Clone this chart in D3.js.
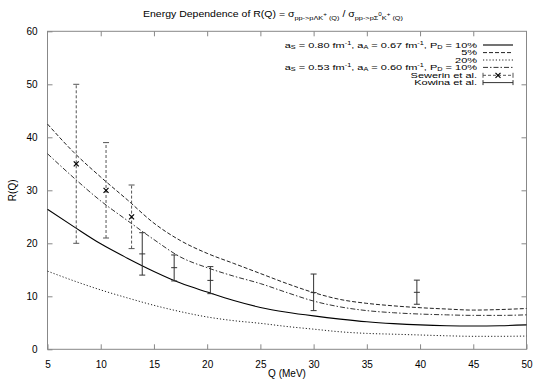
<!DOCTYPE html>
<html lang="en">
  <head>
    <meta charset="utf-8">
    <title>R(Q)</title>
    <script src="https://cdn.jsdelivr.net/npm/d3@7"></script>
    <style>
      body { margin: 0; background: #fff; }
      text { font-family: "Liberation Sans", Arial, sans-serif; fill: #000; }
    </style>
  </head>
  <body>
    <script>
      // curves on a common Q grid (MeV)
      var qGrid = [5, 7.5, 10, 12.5, 15, 17.5, 20, 22.5, 25, 27.5, 30, 32.5, 35, 37.5, 40, 42.5, 45, 47.5, 50];
      var pd10 = [26.4, 23.1, 19.9, 17.2, 14.7, 12.5, 10.8, 9.2, 7.9, 7.0, 6.3, 5.7, 5.2, 4.85, 4.6, 4.45, 4.4, 4.45, 4.6];
      var pd5 = [42.5, 37.1, 32.5, 28.2, 23.8, 20.5, 18.1, 16.2, 14.3, 12.4, 10.7, 9.4, 8.67, 8.2, 7.85, 7.6, 7.4, 7.5, 7.7];
      var pd20 = [14.75, 12.9, 11.2, 9.7, 8.3, 7.1, 6.1, 5.4, 4.9, 4.3, 3.8, 3.3, 3.0, 2.85, 2.7, 2.55, 2.45, 2.45, 2.5];
      var altScat = [36.9, 32.3, 28.0, 24.3, 20.7, 17.4, 15.4, 13.8, 12.4, 10.7, 9.1, 8.0, 7.3, 6.9, 6.65, 6.5, 6.4, 6.4, 6.5];

      // data points: Q, value, low, high
      var sewQ = [7.7, 10.5, 12.9];
      var sewR = [35, 30, 25];
      var sewLo = [20, 21, 19];
      var sewHi = [50, 39, 31];

      var kowQ = [13.9, 16.9, 20.3, 30.0, 39.7];
      var kowR = [18, 15.4, 13, 10.7, 10.75];
      var kowLo = [14, 12.9, 10.5, 7.3, 8.5];
      var kowHi = [22, 17.8, 15.6, 14.2, 13.05];

      var xTicks = [5, 10, 15, 20, 25, 30, 35, 40, 45, 50];
      var yTicks = [0, 10, 20, 30, 40, 50, 60];

      var W = 545, H = 382;
      var svg = d3.select("body").append("svg")
                  .attr("width", W)
                  .attr("height", H);

      var x = d3.scaleLinear().domain([5, 50]).range([47.5, 526.5]);
      var y = d3.scaleLinear().domain([0, 60]).range([349.3, 31.3]);

      var axisColor = "#888";

      // writes text with sub/superscripts: parts = [text, shift(px, +down), size]
      function rich(t, parts) {
        var prev = 0;
        parts.forEach(function(p) {
          t.append("tspan")
           .attr("dy", p[1] - prev)
           .style("font-size", p[2] + "px")
           .text(p[0]);
          prev = p[1];
        });
      }

      // the picture's text is squeezed vertically
      function squeezed(px, py, anchor, sx, sy) {
        return svg.append("text")
                  .attr("transform", "translate(" + px + "," + py + ") scale(" + sx + "," + sy + ")")
                  .attr("text-anchor", anchor);
      }

      // axes, ticks inward and mirrored
      function styleAxis(g) {
        g.select(".domain").remove();
        g.selectAll("line").attr("stroke", axisColor);
        g.selectAll("text").style("font-size", "10px")
         .style("font-family", "Liberation Sans, Arial, sans-serif");
      }

      svg.append("g")
         .attr("transform", "translate(0," + y(0) + ")")
         .call(d3.axisBottom(x).tickValues(xTicks).tickSize(-5).tickPadding(12))
         .call(styleAxis);
      svg.append("g")
         .attr("transform", "translate(0," + y(60) + ")")
         .call(d3.axisTop(x).tickValues(xTicks.slice(1, -1)).tickSize(-5).tickFormat(""))
         .call(styleAxis);
      svg.append("g")
         .attr("transform", "translate(" + x(5) + ",0)")
         .call(d3.axisLeft(y).tickValues(yTicks).tickSize(-5).tickPadding(10))
         .call(styleAxis);
      svg.append("g")
         .attr("transform", "translate(" + x(50) + ",0)")
         .call(d3.axisRight(y).tickValues(yTicks.slice(1, -1)).tickSize(-5).tickFormat(""))
         .call(styleAxis);

      svg.append("rect")
         .attr("x", x(5)).attr("y", y(60))
         .attr("width", x(50) - x(5)).attr("height", y(0) - y(60))
         .attr("fill", "none").attr("stroke", axisColor);

      // curves
      var curves = [
        {vals: pd10, dash: null, w: 1.1, c: "#000"},
        {vals: pd5, dash: "4,2", w: 1, c: "#222"},
        {vals: pd20, dash: "1.2,2", w: 1, c: "#222"},
        {vals: altScat, dash: "5,2,1.5,2", w: 1, c: "#333"}
      ];
      var line = d3.line()
                   .x(function(d) { return x(d[0]); })
                   .y(function(d) { return y(d[1]); })
                   .curve(d3.curveMonotoneX);

      svg.selectAll("path.curve")
         .data(curves)
         .enter()
         .append("path")
           .attr("class", "curve")
           .attr("d", function(c) {
             return line(qGrid.map(function(q, i) { return [q, c.vals[i]]; }));
           })
           .attr("fill", "none")
           .attr("stroke", function(c) { return c.c; })
           .attr("stroke-width", function(c) { return c.w; })
           .attr("stroke-dasharray", function(c) { return c.dash; });

      function cross(g, cx, cy) {
        g.append("path")
         .attr("d", "M" + (cx - 2.5) + "," + (cy - 2.5) + "L" + (cx + 2.5) + "," + (cy + 2.5) +
                    "M" + (cx - 2.5) + "," + (cy + 2.5) + "L" + (cx + 2.5) + "," + (cy - 2.5))
         .attr("stroke", "#000").attr("stroke-width", 1.2);
      }

      // error bars
      function errBars(qs, rs, lo, hi, dash, col, marker) {
        var g = svg.append("g");
        qs.forEach(function(q, i) {
          var cx = x(q);
          g.append("line")
           .attr("x1", cx).attr("x2", cx)
           .attr("y1", y(lo[i])).attr("y2", y(hi[i]))
           .attr("stroke", col).attr("stroke-dasharray", dash);
          [lo[i], hi[i]].forEach(function(v) {
            g.append("line")
             .attr("x1", cx - 3).attr("x2", cx + 3)
             .attr("y1", y(v)).attr("y2", y(v))
             .attr("stroke", col);
          });
          var cy = y(rs[i]);
          if (marker == "x") {
            cross(g, cx, cy);
          } else {
            g.append("line")
             .attr("x1", cx - 3).attr("x2", cx + 3)
             .attr("y1", cy).attr("y2", cy)
             .attr("stroke", col);
          }
        });
      }
      errBars(sewQ, sewR, sewLo, sewHi, "3,2", "#555", "x");
      errBars(kowQ, kowR, kowLo, kowHi, null, "#333", "+");

      // legend
      var lx = 477, sx0 = 483, sx1 = 513;
      var fs = 9, ss = 6;
      var rows = [
        [["a", 0, fs], ["S", 1.5, ss], [" = 0.80 fm", 0, fs], ["-1", -3.5, ss], [", a", 0, fs], ["A", 1.5, ss],
         [" = 0.67 fm", 0, fs], ["-1", -3.5, ss], [", P", 0, fs], ["D", 1.5, ss], [" = 10%", 0, fs]],
        [["5%", 0, fs]],
        [["20%", 0, fs]],
        [["a", 0, fs], ["S", 1.5, ss], [" = 0.53 fm", 0, fs], ["-1", -3.5, ss], [", a", 0, fs], ["A", 1.5, ss],
         [" = 0.60 fm", 0, fs], ["-1", -3.5, ss], [", P", 0, fs], ["D", 1.5, ss], [" = 10%", 0, fs]],
        [["Sewerin et al.", 0, fs]],
        [["Kowina et al.", 0, fs]]
      ];
      var rowY = [45, 52.6, 60, 67.4, 75.3, 82.6];
      rows.forEach(function(r, i) {
        rich(squeezed(lx, rowY[i] + 2.7, "end", 1.22, 0.8), r);
      });
      curves.forEach(function(c, i) {
        svg.append("line")
           .attr("x1", sx0).attr("x2", sx1)
           .attr("y1", rowY[i]).attr("y2", rowY[i])
           .attr("stroke", c.c).attr("stroke-width", c.w)
           .attr("stroke-dasharray", c.dash);
      });
      // point samples in the legend
      [[4, "3,2", "#555", "x"], [5, null, "#333", "+"]].forEach(function(s) {
        var ly = rowY[s[0]], g = svg.append("g");
        g.append("line").attr("x1", sx0).attr("x2", sx1).attr("y1", ly).attr("y2", ly)
         .attr("stroke", s[2]).attr("stroke-dasharray", s[1]);
        [sx0, sx1].forEach(function(e) {
          g.append("line").attr("x1", e).attr("x2", e).attr("y1", ly - 2.5).attr("y2", ly + 2.5)
           .attr("stroke", s[2]);
        });
        if (s[3] == "x") cross(g, (sx0 + sx1) / 2, ly);
      });

      // title
      rich(squeezed(273, 17, "middle", 1.05, 0.85),
           [["Energy Dependence of R(Q) = \u03c3", 0, 10],
            ["pp->p\u039bK", 3, 7], ["+", -1, 6], [" (Q)", 3, 7],
            [" / \u03c3", 0, 10],
            ["pp->p\u03a3", 3, 7], ["0", -1, 6], ["K", 3, 7], ["+", -1, 6], [" (Q)", 3, 7]]);

      // axis labels
      svg.append("text")
         .attr("x", x(27.5)).attr("y", 377)
         .attr("text-anchor", "middle")
         .style("font-size", "10px")
         .text("Q (MeV)");
      svg.append("text")
         .attr("transform", "translate(16," + y(30) + ") rotate(-90)")
         .attr("text-anchor", "middle")
         .style("font-size", "10px")
         .text("R(Q)");
    </script>
  </body>
</html>
